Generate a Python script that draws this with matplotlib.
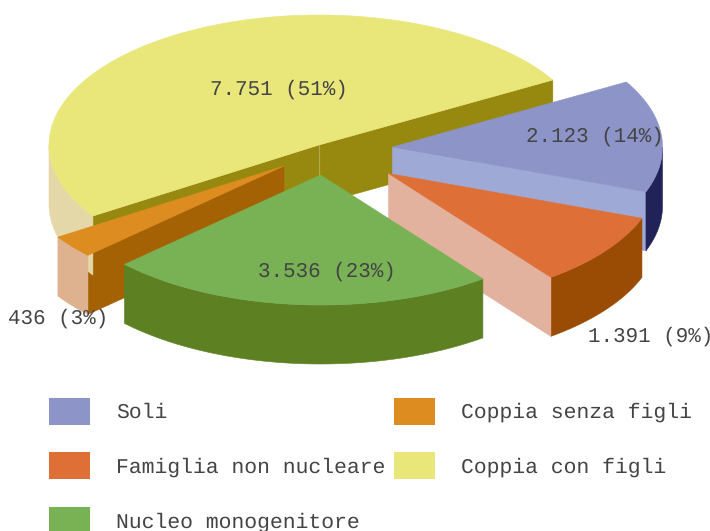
import numpy as np
import matplotlib
matplotlib.use("Agg")
import matplotlib.pyplot as plt
from matplotlib.patches import Polygon, Rectangle

categories = ["Soli", "Famiglia non nucleare", "Nucleo monogenitore", "Coppia senza figli", "Coppia con figli"]
values = [2123, 1391, 3536, 436, 7751]

top_colors = ["#8c94c8", "#de7037", "#79b155", "#dd8c20", "#e9e67a"]
rim_colors = ["#212358", "#9a4c04", "#5d8122", "#dfb28f", "#e4d8a8"]
cut_colors = ["#9fa9d6", "#e3b29f", None, "#a56204", "#97890f"]
centers = [(392.5, 147), (388.5, 173.5), (320.5, 175), (284, 166), (319, 145)]

RX, RY, DEPTH = 270, 130, 59.0
START = 30
plt.rcParams["font.family"] = ["Liberation Mono", "DejaVu Sans Mono"]
plt.rcParams["text.hinting"] = "no_hinting"
plt.rcParams["text.hinting_factor"] = 8
LABEL_FS = 15.0
LEGEND_FS = 15.4
TEXT = "#444444"

fig = plt.figure(figsize=(7.1, 5.31), dpi=100)
ax = fig.add_axes([0, 0, 1, 1])
ax.set_xlim(0, 710)
ax.set_ylim(531, 0)
ax.axis("off")

total = sum(values)
bounds = START - np.concatenate([[0], np.cumsum(values)]) / total * 360


def pt(c, deg):
    r = np.radians(deg)
    return c[0] + RX * np.cos(r), c[1] - RY * np.sin(r)


def arc(c, a, b):
    r = np.radians(np.linspace(a, b, 120))
    return np.column_stack([c[0] + RX * np.cos(r), c[1] - RY * np.sin(r)])


def poly(points, color, z):
    ax.add_patch(Polygon(points, closed=True, facecolor=color, edgecolor=color, linewidth=0.4, zorder=z))


def rim(i, z):
    hi, lo = min(bounds[i], 0), max(bounds[i + 1], -180)
    if hi > lo:
        a = arc(centers[i], hi, lo)
        poly(np.vstack([a, (a + [0, DEPTH])[::-1]]), rim_colors[i], z)


def cut(i, deg, z):
    c = centers[i]
    p = pt(c, deg)
    poly([c, p, (p[0], p[1] + DEPTH), (c[0], c[1] + DEPTH)], cut_colors[i], z)


def top(i, z):
    poly(np.vstack([[centers[i]], arc(centers[i], bounds[i], bounds[i + 1])]), top_colors[i], z)


# yellow cut faces at the back, with the seam between them
cut(4, bounds[4], 1)
cut(4, bounds[5], 1)
cx, cy = centers[4]
ax.plot([cx, cx], [cy, cy + DEPTH], color="#b3a84e", lw=0.8, zorder=1.5)
# Soli
cut(0, bounds[1], 2)
rim(0, 2)
top(0, 3)
# Famiglia non nucleare
rim(1, 4)
cut(1, bounds[2], 4)
top(1, 5)
# Coppia senza figli, with the yellow rim lying between its faces
cut(3, bounds[3], 6)
rim(4, 7)
rim(3, 8)
top(3, 9)
# Nucleo monogenitore
rim(2, 10)
top(2, 11)
# Coppia con figli
top(4, 12)

fmt = [f"{v:,}".replace(",", ".") + f" ({round(100 * v / total)}%)" for v in values]
label_xy = [(595, 142), (651, 342), (327, 277), (58, 324), (279, 95)]
for s, (x, y) in zip(fmt, label_xy):
    ax.text(x, y, s, ha="center", va="baseline", fontsize=LABEL_FS, color=TEXT, zorder=20)

swatch_x = [49, 49, 49, 394, 394]
swatch_y = [398, 452, 507, 398, 452]
text_y = [418, 473, 528, 418, 473]
for name, col, x, y, ty in zip(categories, top_colors, swatch_x, swatch_y, text_y):
    ax.add_patch(Rectangle((x, y), 41, 27, facecolor=col, edgecolor="none", zorder=5))
    ax.text(x + 67, ty, name, ha="left", va="baseline", fontsize=LEGEND_FS, color=TEXT, zorder=20)

fig.savefig("out.png", dpi=100)
